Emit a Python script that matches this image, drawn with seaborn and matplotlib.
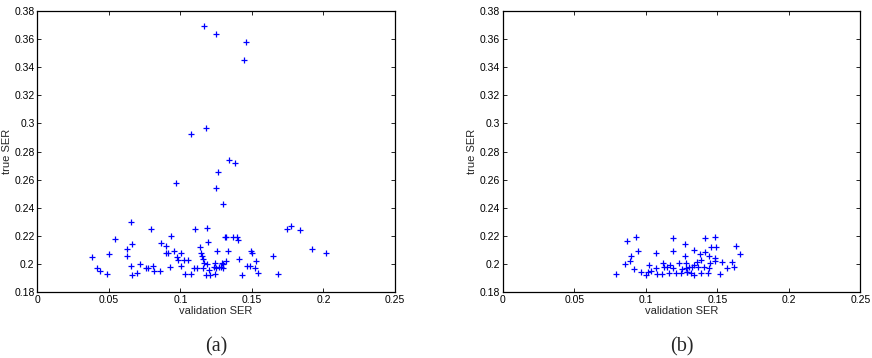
import matplotlib
matplotlib.use("Agg")
import matplotlib.pyplot as plt
import seaborn as sns
import pandas as pd

# Panel (a): validation SER vs true SER
a_val = [0.038, 0.042, 0.044, 0.049, 0.050, 0.054, 0.0655, 0.063, 0.0665, 0.063,
         0.0655, 0.0665, 0.0694, 0.072, 0.076, 0.0774, 0.0792, 0.0808, 0.0817, 0.0859,
         0.0861, 0.090, 0.0933, 0.090, 0.0915, 0.0926, 0.0956, 0.0979, 0.1005, 0.0986,
         0.1005, 0.1024, 0.1054, 0.1035, 0.1072, 0.1093, 0.1118, 0.1104, 0.1137, 0.1144,
         0.1153, 0.116, 0.1162, 0.1188, 0.1199, 0.1176, 0.1206, 0.1158, 0.1188, 0.1192,
         0.1257, 0.1241, 0.1234, 0.1248, 0.1269, 0.1285, 0.1299, 0.1239, 0.129, 0.130,
         0.1318, 0.1334, 0.131, 0.132, 0.1368, 0.1396, 0.1403, 0.141, 0.149, 0.150,
         0.1463, 0.1486, 0.1526, 0.1521, 0.1542, 0.143, 0.165, 0.1683, 0.177, 0.1748,
         0.1838, 0.1922, 0.2017,
         0.1163, 0.125, 0.1458, 0.1445, 0.1176, 0.1076, 0.1338, 0.1382, 0.1264, 0.0968,
         0.125, 0.1297]
a_true = [0.205, 0.197, 0.195, 0.193, 0.207, 0.218, 0.230, 0.211, 0.214, 0.206,
          0.199, 0.192, 0.194, 0.200, 0.197, 0.197, 0.225, 0.199, 0.195, 0.195,
          0.215, 0.213, 0.220, 0.208, 0.208, 0.198, 0.209, 0.205, 0.208, 0.203,
          0.199, 0.203, 0.203, 0.193, 0.193, 0.197, 0.197, 0.225, 0.212, 0.208,
          0.206, 0.204, 0.201, 0.200, 0.196, 0.192, 0.192, 0.197, 0.226, 0.216,
          0.209, 0.201, 0.198, 0.197, 0.198, 0.198, 0.197, 0.193, 0.201, 0.200,
          0.202, 0.209, 0.219, 0.219, 0.219, 0.219, 0.217, 0.204, 0.209, 0.208,
          0.199, 0.199, 0.202, 0.197, 0.194, 0.192, 0.206, 0.193, 0.227, 0.225,
          0.224, 0.211, 0.208,
          0.369, 0.3637, 0.3576, 0.3448, 0.2965, 0.2926, 0.2737, 0.2716, 0.2657, 0.2574,
          0.2539, 0.2427]

# Panel (b)
b_val = [0.0792, 0.0868, 0.0935, 0.0898, 0.0891, 0.0852, 0.0916, 0.0949, 0.0965, 0.100,
         0.1023, 0.1016, 0.1039, 0.1074, 0.1074, 0.1081, 0.1111, 0.1118, 0.1127, 0.1150,
         0.1162, 0.119, 0.119, 0.1167, 0.119, 0.1208, 0.1231, 0.1243, 0.1271, 0.1273,
         0.1282, 0.1289, 0.1417, 0.1487, 0.1457, 0.1493, 0.1336, 0.1376, 0.1417, 0.1481,
         0.1481, 0.1629, 0.1655, 0.1532, 0.1602, 0.1567, 0.1618, 0.1521, 0.1446, 0.1439,
         0.1435, 0.1405, 0.1383, 0.136, 0.1336, 0.1320, 0.1302, 0.1283, 0.1255, 0.129,
         0.1313, 0.1336, 0.1383, 0.1366, 0.1439]
b_true = [0.1928, 0.2164, 0.2191, 0.2058, 0.2022, 0.2000, 0.1964, 0.2093, 0.1941, 0.1926,
          0.1994, 0.1947, 0.1952, 0.2076, 0.1975, 0.1928, 0.1928, 0.2005, 0.1982, 0.1982,
          0.1935, 0.2189, 0.2090, 0.1994, 0.1970, 0.1939, 0.2005, 0.1935, 0.2143, 0.2060,
          0.1975, 0.1947, 0.2186, 0.2196, 0.2124, 0.2124, 0.2100, 0.2071, 0.2088, 0.2046,
          0.2025, 0.2129, 0.2069, 0.2017, 0.2017, 0.1975, 0.1982, 0.1928, 0.2005, 0.1975,
          0.1939, 0.1982, 0.2029, 0.2017, 0.1994, 0.1982, 0.1982, 0.2005, 0.1964, 0.1947,
          0.1935, 0.1923, 0.1935, 0.1977, 0.2060]

x_ticks = [0, 0.05, 0.1, 0.15, 0.2, 0.25]
x_labels = ["0", "0.05", "0.1", "0.15", "0.2", "0.25"]
y_ticks = [0.18, 0.2, 0.22, 0.24, 0.26, 0.28, 0.3, 0.32, 0.34, 0.36, 0.38]
y_labels = ["0.18", "0.2", "0.22", "0.24", "0.26", "0.28", "0.3", "0.32", "0.34", "0.36", "0.38"]
panel_titles = ["(a)", "(b)"]

sns.set_theme(style="white")
plt.rcParams['font.family'] = ['Liberation Sans', 'DejaVu Sans']

fig = plt.figure(figsize=(8.72, 3.58), dpi=100)
axes = [fig.add_axes([0.0428, 0.1835, 0.4102, 0.7865]),
        fig.add_axes([0.5765, 0.1835, 0.4102, 0.7865])]

data = [(a_val, a_true), (b_val, b_true)]
for ax, (xv, yv), title in zip(axes, data, panel_titles):
    df = pd.DataFrame({"validation SER": xv, "true SER": yv})
    sns.scatterplot(data=df, x="validation SER", y="true SER", ax=ax,
                    marker="+", color="#0000ff", s=20, linewidth=0.9)
    ax.set_xlim(0, 0.25)
    ax.set_ylim(0.18, 0.38)
    ax.set_xticks(x_ticks)
    ax.set_xticklabels(x_labels)
    ax.set_yticks(y_ticks)
    ax.set_yticklabels(y_labels)
    ax.tick_params(direction="in", length=3, width=0.6, labelsize=7.5, top=True, right=True,
                   bottom=True, left=True, pad=2, colors="black")
    for sp in ax.spines.values():
        sp.set_visible(True)
        sp.set_color("black")
        sp.set_linewidth(0.9)
    ax.set_xlabel("validation SER", fontsize=8, labelpad=1)
    ax.set_ylabel("true SER", fontsize=8)
    ax.yaxis.set_label_coords(-0.072, 0.5)
    ax.text(0.5, -0.16, title, transform=ax.transAxes, ha="center", va="top",
            fontsize=14.5, family=["Liberation Serif", "DejaVu Serif"])

fig.savefig("out.png", dpi=100)
